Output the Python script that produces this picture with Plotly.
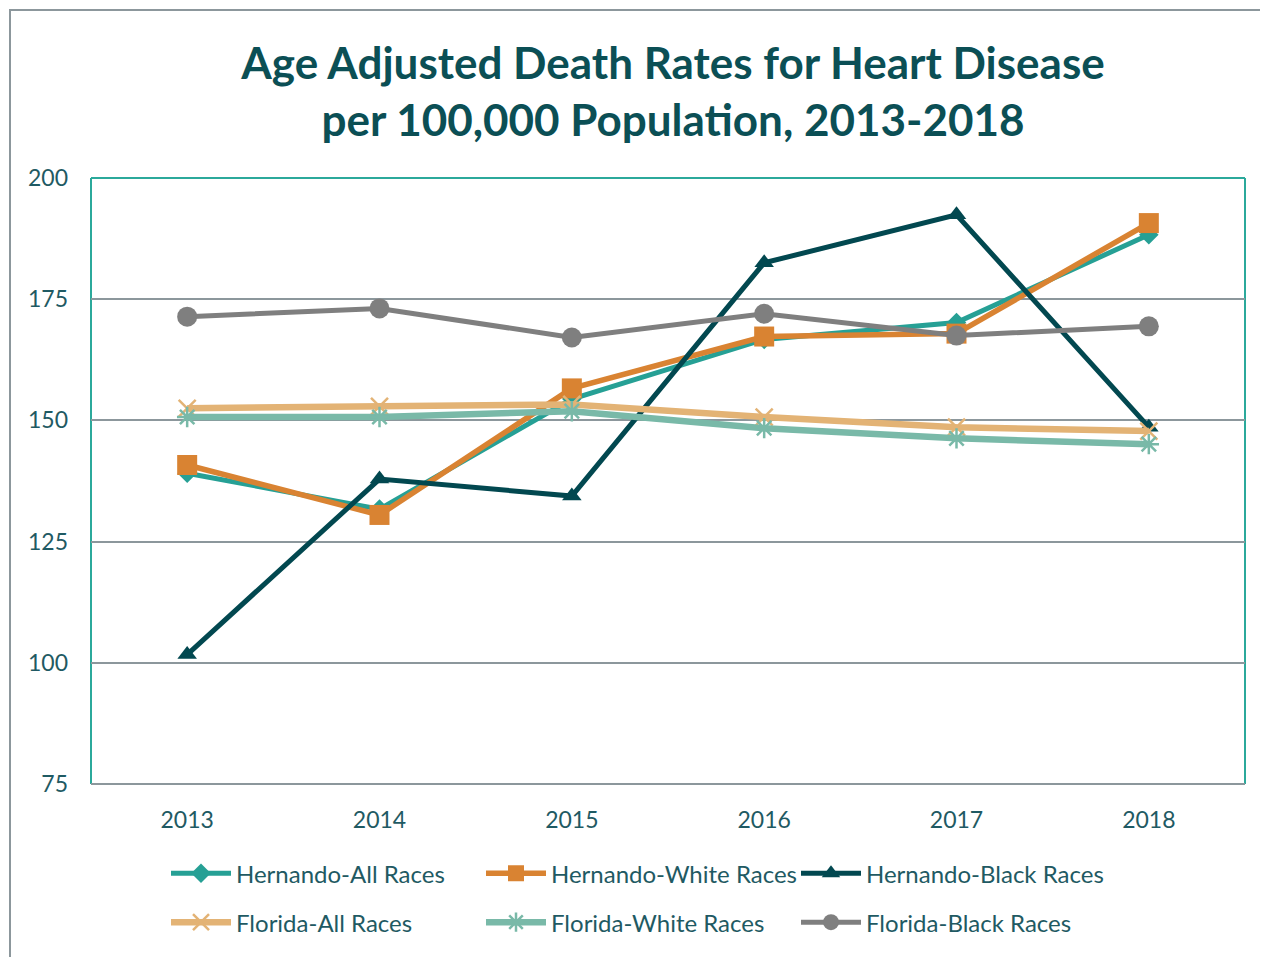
import plotly.graph_objects as go

years = ["2013", "2014", "2015", "2016", "2017", "2018"]

hernando_all = [139.1, 131.7, 154.4, 166.7, 170.2, 188.3]
hernando_white = [140.8, 130.5, 156.6, 167.3, 167.9, 190.7]
hernando_black = [101.7, 137.9, 134.4, 182.5, 192.4, 148.6]
florida_all = [152.5, 152.9, 153.3, 150.7, 148.6, 147.8]
florida_white = [150.7, 150.7, 151.9, 148.4, 146.3, 145.1]
florida_black = [171.4, 173.1, 167.1, 172.0, 167.5, 169.4]

y_ticks = [75, 100, 125, 150, 175, 200]

series = [
    ("Hernando-All Races", hernando_all, "#26A095", "diamond", 15, 5, "legend"),
    ("Hernando-White Races", hernando_white, "#D98332", "square", 20, 5.5, "legend"),
    ("Hernando-Black Races", hernando_black, "#024850", "triangle-up", 17, 5, "legend"),
    ("Florida-All Races", florida_all, "#E3B375", "x-thin", 17, 6.5, "legend2"),
    ("Florida-White Races", florida_white, "#79B9A8", "asterisk", 17, 6.5, "legend2"),
    ("Florida-Black Races", florida_black, "#7F7F7F", "circle", 20, 5, "legend2"),
]

fig = go.Figure()
for name, vals, color, sym, size, lw, leg in series:
    marker = dict(symbol=sym, size=size, color=color)
    if sym in ("x-thin", "asterisk"):
        marker["line"] = dict(color=color, width=2.5)
    else:
        marker["line"] = dict(width=0)
    fig.add_trace(go.Scatter(
        x=years, y=vals, name=name, mode="lines+markers",
        line=dict(color=color, width=lw),
        marker=marker, legend=leg,
    ))

text_color = "#1F5A63"
W, H = 1260, 949
L, T = 83, 170
PW, PH = 1154, 608
leg_common = dict(
    orientation="h", xanchor="left", yanchor="middle",
    entrywidth=240, entrywidthmode="pixels",
    font=dict(size=24, color=text_color, family="Lato"),
    itemwidth=60, bgcolor="rgba(0,0,0,0)",
)
fig.update_layout(
    width=W, height=H,
    paper_bgcolor="white", plot_bgcolor="white",
    margin=dict(l=L, r=W - L - PW, t=T, b=H - T - PH),
    title=dict(
        text="Age Adjusted Death Rates for Heart Disease<br>per 100,000 Population, 2013-2018",
        font=dict(family="Lato", size=44, color="#0B4F55", weight="bold"),
        x=(673 - 8) / W, xanchor="center", y=1 - 71 / H, yanchor="middle",
    ),
    font=dict(family="Lato", color=text_color),
    showlegend=True,
    legend=dict(x=(166 - 91) / PW, y=-(876 - 786) / PH, **leg_common),
    legend2=dict(x=(166 - 91) / PW, y=-(925 - 786) / PH, **leg_common),
)
fig.update_xaxes(
    type="category", range=[-0.5, 5.5],
    showgrid=False, showline=False, zeroline=False,
    tickfont=dict(size=23, color=text_color), ticks="", ticklabelstandoff=20,
)
fig.update_yaxes(
    range=[75, 200], tickvals=y_ticks,
    showgrid=True, gridcolor="#8C979C", gridwidth=2,
    showline=False, zeroline=False,
    tickfont=dict(size=23, color=text_color), ticks="", ticklabelstandoff=22,
)

# plot-area frame: teal left/top/right, gray bottom
for x0, x1, y0, y1, c in [(0, 0, 0, 1, "#2BA99B"), (1, 1, 0, 1, "#2BA99B"),
                          (0, 1, 1, 1, "#2BA99B"), (0, 1, 0, 0, "#8C979C")]:
    fig.add_shape(type="line", xref="paper", yref="paper", x0=x0, x1=x1, y0=y0, y1=y1,
                  line=dict(color=c, width=2), layer="below")
# outer chart border (gray)
fig.add_shape(type="rect", xref="paper", yref="paper",
              x0=(2 - L) / PW, x1=(1400 - L) / PW,
              y0=(T + PH - 1100) / PH, y1=(T + PH - 1.5) / PH,
              line=dict(color="#8C979C", width=2), layer="below")

fig.write_html("out.html")
